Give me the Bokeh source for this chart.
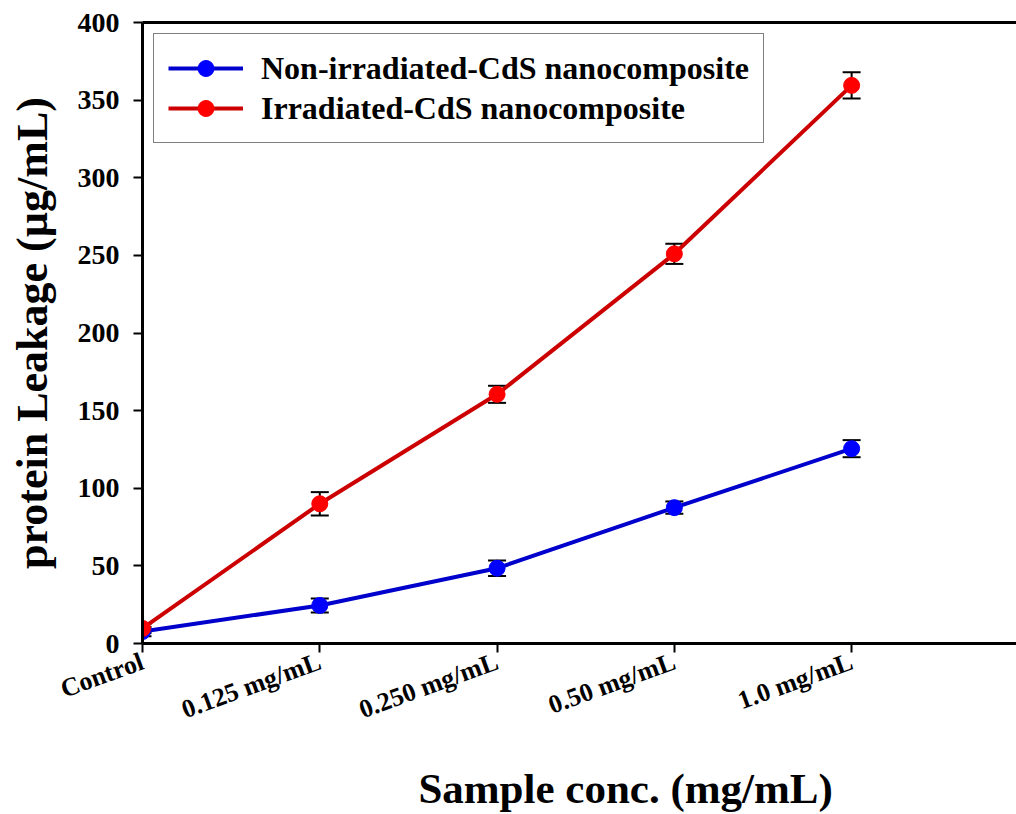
import math
from bokeh.plotting import figure
from bokeh.models import (ColumnDataSource, Range1d, FixedTicker, LinearAxis,
                          Whisker, TeeHead)
from bokeh.core.properties import value
from bokeh.layouts import column
from bokeh.embed import file_html
from bokeh.resources import INLINE

# ---- data ----
categories = ["Control", "0.125 mg/mL", "0.250 mg/mL", "0.50 mg/mL", "1.0 mg/mL"]
non_irradiated = [7.7, 24.5, 48.5, 87.5, 125.5]
non_irradiated_err = [3.0, 4.5, 5.0, 4.0, 5.5]
irradiated = [9.7, 90.0, 160.5, 251.0, 359.5]
irradiated_err = [3.0, 7.5, 5.5, 6.5, 8.5]
y_ticks = [0, 50, 100, 150, 200, 250, 300, 350, 400]
series_names = ["Non-irradiated-CdS nanocomposite", "Irradiated-CdS nanocomposite"]
x_title = "Sample conc. (mg/mL)"
y_title = "protein Leakage (µg/mL)"

FONT = "Liberation Serif"
xs = list(range(len(categories)))

xr = Range1d(0, 4.93)
p = figure(width=1016, height=754, output_backend="svg", toolbar_location=None,
           x_range=xr, y_range=Range1d(0, 400),
           min_border_left=142, min_border_right=0, min_border_top=22,
           min_border_bottom=111, background_fill_color="white",
           border_fill_color="white", outline_line_color=None)
p.grid.visible = False

# axes
for ax in (p.xaxis[0], p.yaxis[0]):
    ax.axis_line_width = 3
    ax.axis_line_color = "black"
    ax.major_tick_line_width = 2
    ax.major_tick_out = 9
    ax.major_tick_in = 0
    ax.minor_tick_line_color = None
    ax.major_label_text_font = FONT
    ax.major_label_text_font_style = "bold"
    ax.major_label_text_color = "black"

p.yaxis.ticker = FixedTicker(ticks=y_ticks)
p.yaxis.major_label_text_font_size = "28px"
p.yaxis.major_label_standoff = 14
p.yaxis.axis_label = y_title
p.yaxis.axis_label_text_font = FONT
p.yaxis.axis_label_text_font_style = "bold"
p.yaxis.axis_label_text_font_size = "44px"
p.yaxis.axis_label_text_color = "black"
p.yaxis.axis_label_standoff = 18

p.xaxis.ticker = FixedTicker(ticks=xs)
p.xaxis.major_label_overrides = {i: c for i, c in zip(xs, categories)}
p.xaxis.major_label_text_font_size = "26px"
p.xaxis.major_label_orientation = math.radians(20)
p.xaxis.major_label_standoff = 8

# top border line
top = LinearAxis(ticker=FixedTicker(ticks=[]), axis_line_width=3,
                 major_tick_line_color=None, minor_tick_line_color=None,
                 major_label_text_font_size="0px")
p.add_layout(top, "above")

# series
specs = [
    (non_irradiated, non_irradiated_err, "#0000cc", "#0000ff", series_names[0]),
    (irradiated, irradiated_err, "#cc0000", "#ff0000", series_names[1]),
]
for vals, errs, lc, mc, name in specs:
    src = ColumnDataSource(dict(x=xs, y=vals,
                                upper=[v + e for v, e in zip(vals, errs)],
                                lower=[v - e for v, e in zip(vals, errs)]))
    w = Whisker(source=src, base="x", upper="upper", lower="lower",
                line_color="black", line_width=2, level="underlay",
                upper_head=TeeHead(size=18, line_width=2, line_color="black"),
                lower_head=TeeHead(size=18, line_width=2, line_color="black"))
    p.add_layout(w)
    p.line("x", "y", source=src, line_color=lc, line_width=4, legend_label=name)
    p.scatter("x", "y", source=src, size=16, fill_color=mc, line_color=mc,
              legend_label=name)

lg = p.legend[0]
lg.location = "top_left"
lg.margin = 11
lg.padding = 14
lg.spacing = 0
lg.glyph_width = 75
lg.glyph_height = 40
lg.label_height = 40
lg.label_standoff = 18
lg.label_text_font = FONT
lg.label_text_font_style = "bold"
lg.label_text_font_size = "32px"
lg.label_text_color = "black"
lg.border_line_color = "black"
lg.border_line_width = 1
lg.background_fill_alpha = 1

# x title strip below the chart (frame aligned with the chart's frame)
t = figure(width=1016, height=60, output_backend="svg", toolbar_location=None,
           x_range=xr, y_range=Range1d(0, 1),
           x_axis_type=None, y_axis_type=None,
           min_border_left=142, min_border_right=0, min_border_top=0,
           min_border_bottom=0, outline_line_color=None,
           background_fill_color="white", border_fill_color="white")
t.grid.visible = False
t.text(x=[2.725], y=[0.43], text=[x_title], text_font=value(FONT),
       text_font_style="bold", text_font_size="43px", text_color="black",
       text_align="center", text_baseline="middle")

layout = column(p, t, spacing=0)
open("out.html", "w").write(file_html(layout, INLINE))
